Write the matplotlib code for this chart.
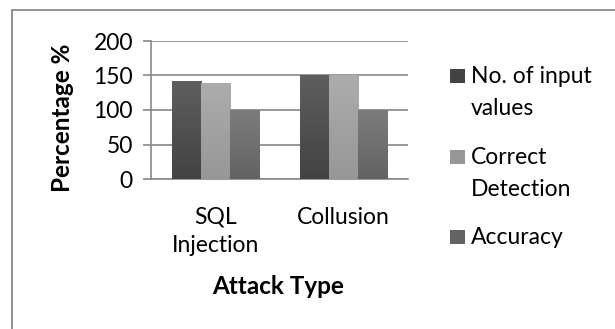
import matplotlib
matplotlib.use("Agg")
import matplotlib.pyplot as plt
import numpy as np
from matplotlib.patches import Rectangle
from matplotlib.colors import LinearSegmentedColormap

categories = ["SQL\nInjection", "Collusion"]
series_names = ["No. of input\nvalues", "Correct\nDetection", "Accuracy"]
input_values = [142, 150]
correct_detection = [139, 150]
accuracy = [100, 100]
yticks = [0, 50, 100, 150, 200]

series = [input_values, correct_detection, accuracy]
grad = [("#5e5e5e", "#434343"), ("#acacac", "#979797"), ("#7c7c7c", "#636363")]

plt.rcParams['font.family'] = ['Lato', 'DejaVu Sans']
W, H = 615, 329
fig = plt.figure(figsize=(W/100, H/100), dpi=100)
ax = fig.add_axes([151/W, 1-179/H, (408-151)/W, (179-41)/H])

bw = 0.226
x = np.arange(len(categories))
for i, (vals, (ctop, cbot)) in enumerate(zip(series, grad)):
    offs = (i - 1) * bw
    bars = ax.bar(x + offs, vals, width=bw, color=ctop, zorder=3, linewidth=0)
    cmap = LinearSegmentedColormap.from_list("g%d" % i, [cbot, ctop])
    for b in bars:
        x0, y0 = b.get_x(), b.get_y()
        w, h = b.get_width(), b.get_height()
        im = ax.imshow(np.linspace(0, 1, 64).reshape(-1, 1), cmap=cmap, origin="lower",
                       extent=[x0, x0 + w, y0, y0 + h], aspect="auto", zorder=4)
        im.set_clip_path(b)

FS = 16.5
ax.set_xlim(-0.5, 1.5)
ax.set_ylim(0, 200)
ax.set_yticks(yticks)
ax.set_xticks(x)
ax.set_xticklabels(categories, fontsize=FS, linespacing=1.4)
ax.tick_params(axis='x', length=0, pad=20)
ax.tick_params(axis='y', length=6, color="#888888", width=1.2, labelsize=FS, pad=7)
ax.yaxis.grid(True, color="#888888", linewidth=1.2, zorder=0)
ax.set_axisbelow(True)
for s in ["top", "right"]:
    ax.spines[s].set_visible(False)
for s in ["left", "bottom"]:
    ax.spines[s].set_color("#888888")
    ax.spines[s].set_linewidth(1.2)

fig.text(62/W, 1-118/H, "Percentage %", rotation=90, fontsize=17.5, fontweight="bold",
         ha="center", va="center")
fig.text(278/W, 1-287/H, "Attack Type", fontsize=17.5, fontweight="bold",
         ha="center", va="center")

# legend
ys = [76, 157, 237]
for name, (ctop, cbot), yc in zip(series_names, grad, ys):
    fig.patches.append(Rectangle((450/W, 1-(yc+7)/H), 15/W, 14/H, transform=fig.transFigure,
                                 facecolor=cbot, edgecolor="none"))
    for k, line in enumerate(name.split("\n")):
        fig.text(471/W, 1-(yc+7+k*32)/H, line, fontsize=FS, ha="left", va="baseline")

# outer frame
fig.patches.append(Rectangle((12/W, -0.05), 1.1, 1-10/H+0.05, transform=fig.transFigure,
                             facecolor="none", edgecolor="#888888", linewidth=1.3))

fig.savefig("out.png", dpi=100)
